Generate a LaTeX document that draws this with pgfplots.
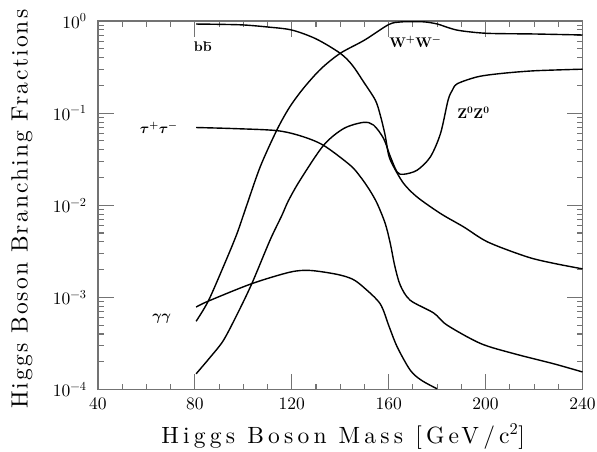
\documentclass[border=0pt]{standalone}
\usepackage{fontspec}
\usepackage{pgfplots}
\pgfplotsset{compat=1.18}

\newfontfamily\tickfont{lmroman10-regular.otf}
\newfontfamily\xlabfont[LetterSpace=18]{lmroman10-regular.otf}
\newfontfamily\ylabfont[LetterSpace=9]{lmroman10-regular.otf}
\newfontfamily\curvefont{lmroman10-bold.otf}
\definecolor{axisgray}{RGB}{115,115,115}

\begin{document}
\begin{tikzpicture}
\useasboundingbox (-98pt,-61.5pt) rectangle (499pt,389.5pt);
\begin{axis}[
    scale only axis,
    width=484.5pt, height=368.5pt,
    at={(0,0)}, anchor=south west,
    ymode=log,
    xmin=40, xmax=240,
    ymin=1e-4, ymax=1,
    xtick={40,80,...,240},
    xticklabels={40,80,120,160,200,240},
    minor x tick num=3,
    ytick={1e-4,1e-3,1e-2,1e-1,1},
    yticklabels={10\textsuperscript{−4},10\textsuperscript{−3},10\textsuperscript{−2},10\textsuperscript{−1},10\textsuperscript{0}},
    axis line style={axisgray, line width=1.1pt},
    every tick/.style={axisgray, line width=1.1pt},
    major tick length=16pt,
    minor tick length=6pt,
    tick label style={font=\tickfont\fontsize{17.5}{19}\selectfont, black},
    xticklabel style={yshift=-5pt},
    yticklabel style={xshift=-8pt},
    xlabel={Higgs Boson Mass [GeV/c\textsuperscript{2}]},
    ylabel={Higgs Boson Branching Fractions},
    xlabel style={font=\xlabfont\fontsize{23.5}{26}\selectfont, at={(axis description cs:0.506,-0.1467)}, anchor=base},
    ylabel style={font=\ylabfont\fontsize{23.5}{26}\selectfont, at={(axis description cs:-0.145,0.489)}, anchor=base},
    curve/.style={black, line width=1.4pt, smooth, tension=0.5},
]
% b bbar
\addplot[curve] coordinates {
(80.5,0.927)(90,0.920)(100,0.906)(110,0.861)(120,0.798)(130,0.640)
(140,0.446)(145,0.331)(149.6,0.219)(154.5,0.138)(156.5,0.0955)
(158.5,0.058)(160,0.0349)(162,0.0263)(166.2,0.0172)(171.7,0.0123)
(181.4,0.00813)(191,0.00581)(201,0.00398)(217.2,0.00275)(228.2,0.00234)(240,0.00204)
};
% W+W-
\addplot[curve] coordinates {
(80.5,5.5e-4)(85.5,9.1e-4)(91.7,2.14e-3)(97.2,4.79e-3)(101.4,0.0100)
(107,0.0263)(113.8,0.0653)(119,0.115)(124.8,0.186)(132,0.302)(140,0.446)
(150,0.62)(160,0.915)(165,0.977)(170.4,0.982)(175,0.977)(180.1,0.927)
(185,0.84)(189.6,0.785)(200.6,0.735)(220,0.723)(240,0.705)
};
% tau+tau-
\addplot[curve] coordinates {
(80.5,0.0698)(95.8,0.0680)(113.8,0.0646)(124,0.0562)(133.1,0.0447)
(144.1,0.0272)(148.3,0.0204)(152,0.0148)(155.2,0.0105)(158.6,0.0063)
(160.7,0.00380)(162.5,0.00220)(164.8,0.00135)(168.9,9.3e-4)(178.6,6.76e-4)
(184.1,5.0e-4)(197.9,3.16e-4)(211.7,2.45e-4)(228.2,1.9e-4)(240,1.55e-4)
};
% Z0Z0
\addplot[curve] coordinates {
(80.5,1.48e-4)(86,2.19e-4)(91.7,3.39e-4)(97.5,6.6e-4)(103.5,1.41e-3)(111,4.17e-3)(115.9,7.76e-3)
(118.6,0.0112)(123.4,0.0187)(133.1,0.0447)(141.4,0.068)(149.6,0.0794)
(153.8,0.074)(157.9,0.053)(160.5,0.0347)(163.5,0.0229)(166.2,0.0217)
(171.7,0.024)(177.2,0.0335)(181.4,0.0603)(184.5,0.138)(186.3,0.178)
(188.4,0.209)(196.7,0.248)(206.2,0.269)(220,0.288)(240,0.300)
};
% gamma gamma
\addplot[curve] coordinates {
(80.5,7.85e-4)(85.5,9.1e-4)(103.5,1.41e-3)(119.3,1.88e-3)(127.6,1.96e-3)
(138.6,1.78e-3)(145,1.58e-3)(149.6,1.29e-3)(156.5,8.5e-4)(160.2,4.8e-4)
(163.5,2.9e-4)(168.9,1.62e-4)(173.5,1.26e-4)(179.9,1.02e-4)
};
\begin{scope}[every node/.style={font=\curvefont\fontsize{14}{16}\selectfont\boldmath, inner sep=1pt}]
\node at (axis cs:83.3,0.52) {b\={b}};
\node at (axis cs:65.1,0.0687) {$\tau^{+}\tau^{-}$};
\node at (axis cs:171,0.59) {W$^{\mathbf{+}}$W$^{\mathbf{-}}$};
\node at (axis cs:195,0.1) {Z$^{\mathbf{0}}$Z$^{\mathbf{0}}$};
\node at (axis cs:66.3,5.9e-4) {$\gamma\gamma$};
\end{scope}
\end{axis}
\end{tikzpicture}
\end{document}
